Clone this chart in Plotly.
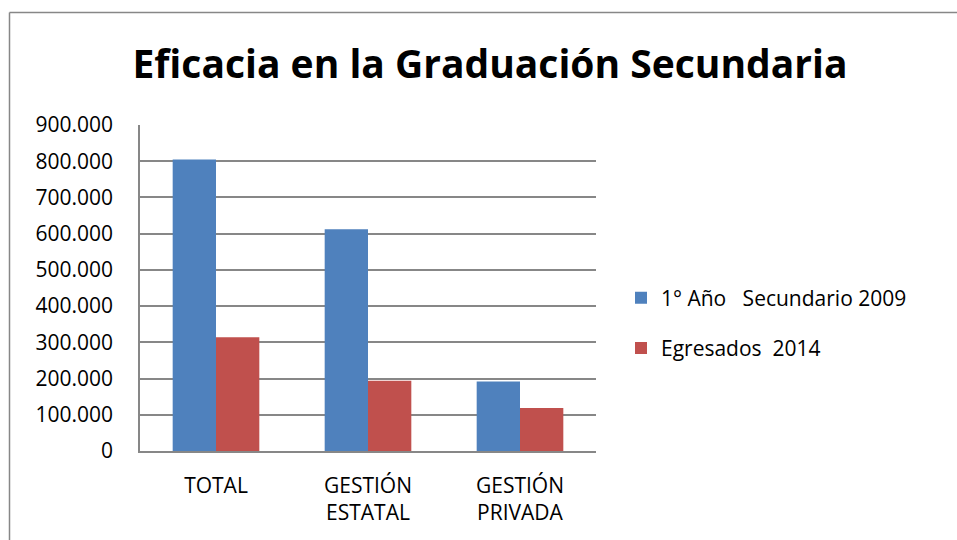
import plotly.graph_objects as go

categories = ["TOTAL", "GESTIÓN<br>ESTATAL", "GESTIÓN<br>PRIVADA"]
serie_2009 = [805000, 612000, 192000]
serie_2014 = [314000, 194000, 119000]
name_2009 = "1°\u00a0Año\u00a0\u00a0\u00a0Secundario\u00a02009"
name_2014 = "Egresados\u00a0\u00a02014"
y_ticks = [0, 100000, 200000, 300000, 400000, 500000, 600000, 700000, 800000, 900000]

FONT = "Open Sans, Lato, Liberation Sans, sans-serif"
GRID = "#878787"

fig = go.Figure()
fig.add_trace(go.Bar(x=categories, y=serie_2009, name=name_2009, legendgroup="a",
                     marker=dict(color="#4F81BD", line=dict(width=0))))
fig.add_trace(go.Bar(x=categories, y=serie_2014, name=name_2014, legendgroup="b",
                     marker=dict(color="#C0504D", line=dict(width=0))))

L, R, T, B = 140, 361, 125, 89
W, H = 957, 540
pw, ph = W - L - R, H - T - B

def px_x(x):
    return (x - L) / pw

def px_y(y):
    return (H - B - y) / ph

border = dict(color="#878787", width=1.5)

fig.update_layout(
    width=W, height=H,
    margin=dict(l=L, r=R, t=T, b=B, autoexpand=False),
    paper_bgcolor="white", plot_bgcolor="white",
    separators=",.",
    barmode="group", bargap=0.43, bargroupgap=0,
    font=dict(family=FONT, size=21, color="#000000"),
    title=dict(text="<b>Eficacia en la Graduación Secundaria</b>",
               x=490 / W, xanchor="center", y=1 - 64 / H, yanchor="middle",
               font=dict(family=FONT, size=39, color="#000000")),
    showlegend=True,
    legend=dict(x=px_x(621), xanchor="left", y=px_y(323), yanchor="middle",
                traceorder="grouped", tracegroupgap=20,
                font=dict(family=FONT, size=21, color="#000000"),
                bgcolor="rgba(0,0,0,0)", itemwidth=30),
    xaxis=dict(showline=True, linecolor=GRID, linewidth=1.5, ticks="",
               showgrid=False, tickfont=dict(size=21), ticklabelstandoff=15),
    yaxis=dict(range=[0, 900000], tickvals=y_ticks, tickformat=",.0f",
               showgrid=True, gridcolor=GRID, gridwidth=1.5,
               showline=True, linecolor=GRID, linewidth=1.5,
               ticks="", tickfont=dict(size=21), ticklabelstandoff=21,
               zeroline=False),
    shapes=[
        dict(type="line", xref="paper", yref="paper",
             x0=px_x(9.5), x1=px_x(W), y0=px_y(12.5), y1=px_y(12.5),
             line=border, layer="above"),
        dict(type="line", xref="paper", yref="paper",
             x0=px_x(9.5), x1=px_x(9.5), y0=px_y(12.5), y1=px_y(H),
             line=border, layer="above"),
    ],
)

fig.write_html("out.html", config={"displayModeBar": False},
               post_script="document.body.style.margin='0';")
